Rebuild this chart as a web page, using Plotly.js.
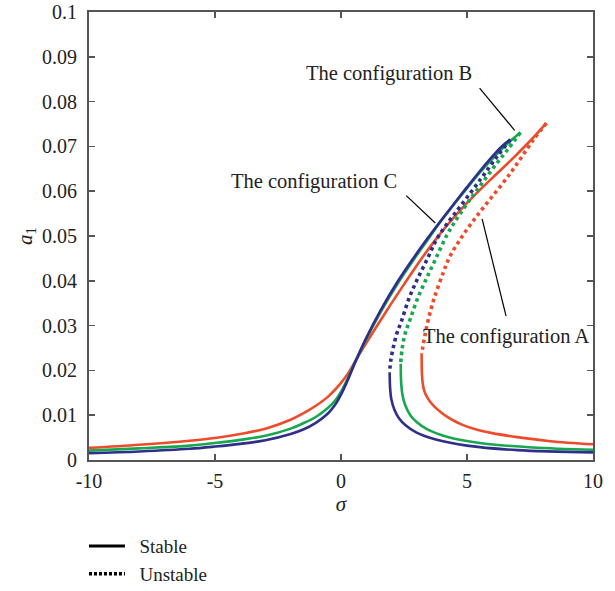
<!DOCTYPE html>
<html>
<head>
<meta charset="utf-8">
<script src="https://cdn.plot.ly/plotly-3.0.1.min.js"></script>
<style>html,body{margin:0;padding:0;background:#fff;}#chart{width:615px;height:591px;}</style>
</head>
<body>
<div id="chart"></div>
<script>
// Configuration C (blue)
const C_upper_x = [-10,-8,-6,-5,-4,-3,-2,-1.5,-1,-0.5,-0.2,0,0.25,0.57,1.0,1.56,2.2,2.88,3.4,3.81,4.4,5.0,5.5,6.06,6.4,6.72];
const C_upper_y = [0.0015,0.0019,0.0025,0.003,0.0036,0.0044,0.0058,0.0068,0.0083,0.0105,0.0126,0.0146,0.0176,0.0219,0.0272,0.0333,0.0394,0.0451,0.0492,0.0523,0.0566,0.0609,0.0644,0.0681,0.0701,0.0715];
const C_unst_x = [6.72,6.2,5.53,4.73,4.27,3.8,3.41,3.0,2.68,2.4,2.22,2.07,1.97,1.93];
const C_unst_y = [0.0715,0.0678,0.0626,0.0566,0.0532,0.0493,0.0447,0.040,0.0358,0.031,0.0283,0.025,0.022,0.0196];
const C_low_x = [1.93,1.95,2.0,2.12,2.3,2.55,3.0,3.8,5.0,7.0,10];
const C_low_y = [0.0196,0.016,0.0135,0.0112,0.0093,0.0078,0.0061,0.0045,0.0032,0.0022,0.0017];
// Configuration B (green)
const B_upper_x = [-10,-8,-6,-5,-4,-3,-2,-1.5,-1,-0.5,-0.2,0,0.25,0.57,1.0,1.6,2.25,2.93,3.45,3.86,4.45,5.05,5.55,6.1,6.6,7.12];
const B_upper_y = [0.0021,0.0026,0.0032,0.0038,0.0045,0.0054,0.007,0.0082,0.0096,0.0117,0.0135,0.0152,0.018,0.022,0.027,0.0333,0.0394,0.0451,0.0492,0.0525,0.0568,0.061,0.0644,0.0678,0.0706,0.0731];
const B_unst_x = [7.12,6.6,6.19,5.6,5.0,4.5,4.21,3.74,3.35,3.02,2.75,2.55,2.43,2.37];
const B_unst_y = [0.0731,0.0692,0.0663,0.0618,0.0572,0.053,0.0503,0.0447,0.040,0.0358,0.0315,0.0283,0.025,0.0215];
const B_low_x = [2.37,2.39,2.44,2.55,2.75,3.0,3.41,4.2,5.5,7.6,10];
const B_low_y = [0.0215,0.017,0.0145,0.0122,0.010,0.0085,0.0069,0.0052,0.0038,0.0028,0.0023];
// Configuration A (red)
const A_upper_x = [-10,-8,-6,-5,-4,-3,-2,-1.5,-1,-0.5,0,0.3,0.57,1.0,1.83,2.5,3.15,3.7,4.21,4.9,5.55,6.2,6.85,7.5,8.15];
const A_upper_y = [0.0027,0.0034,0.0043,0.0049,0.0058,0.007,0.009,0.0104,0.0121,0.0142,0.0172,0.0195,0.0221,0.0261,0.0335,0.0392,0.0446,0.0488,0.0524,0.0568,0.0605,0.064,0.0675,0.0712,0.0752];
const A_unst_x = [8.15,7.64,6.72,5.7,5.13,4.7,4.3,4.05,3.68,3.45,3.32,3.24,3.2];
const A_unst_y = [0.0752,0.0715,0.064,0.0567,0.0525,0.049,0.0452,0.0417,0.0358,0.031,0.0275,0.025,0.0237];
const A_low_x = [3.2,3.21,3.24,3.3,3.4,3.55,3.75,4.0,4.25,4.5,4.8,5.3,6.0,7.0,8.3,10];
const A_low_y = [0.0237,0.0195,0.0172,0.0155,0.0142,0.0129,0.0117,0.0105,0.0095,0.0087,0.0079,0.0069,0.006,0.0051,0.0042,0.0035];

const xTickVals = [-10,-5,0,5,10];
const xTickText = ['-10','-5','0','5','10'];
const yTickVals = [0,0.01,0.02,0.03,0.04,0.05,0.06,0.07,0.08,0.09,0.1];
const yTickText = ['0','0.01','0.02','0.03','0.04','0.05','0.06','0.07','0.08','0.09','0.1'];
const legendNames = ['Stable','Unstable'];

const RED = '#EE4B2B', GREEN = '#17A84F', BLUE = '#2F2E8B';
const FONT = 'Liberation Serif, Times New Roman, serif';
const SW = 2.6, DW = 3.6, DASH = '3.5px,3.5px';
const PAD = '\u00a0\u00a0';

function solid(x, y, c) {
  return {x: x, y: y, type: 'scatter', mode: 'lines', showlegend: false, hoverinfo: 'skip',
          line: {color: c, width: SW, shape: 'spline', smoothing: 1}};
}
function dotted(x, y, c) {
  return {x: x, y: y, type: 'scatter', mode: 'lines', showlegend: false, hoverinfo: 'skip',
          line: {color: c, width: DW, dash: DASH, shape: 'spline', smoothing: 1}};
}

const data = [
  solid(A_upper_x, A_upper_y, RED), dotted(A_unst_x, A_unst_y, RED), solid(A_low_x, A_low_y, RED),
  solid(B_upper_x, B_upper_y, GREEN), dotted(B_unst_x, B_unst_y, GREEN), solid(B_low_x, B_low_y, GREEN),
  solid(C_upper_x, C_upper_y, BLUE), dotted(C_unst_x, C_unst_y, BLUE), solid(C_low_x, C_low_y, BLUE),
  {x: [null], y: [null], type: 'scatter', mode: 'lines', name: PAD + legendNames[0], line: {color: '#000', width: 3}},
  {x: [null], y: [null], type: 'scatter', mode: 'lines', name: PAD + legendNames[1], line: {color: '#000', width: 3.5, dash: '3px,2px'}}
];

const axisCommon = {
  showgrid: false, zeroline: false, showline: true, linecolor: '#555', linewidth: 2,
  ticks: 'inside', ticklen: 6, tickwidth: 1.5, tickcolor: '#555', mirror: 'ticks',
  automargin: false,
  tickfont: {family: FONT, size: 20, color: '#222'}
};

const layout = {
  width: 615, height: 591,
  margin: {l: 89, r: 22, t: 12, b: 131, autoexpand: false},
  paper_bgcolor: '#fff', plot_bgcolor: '#fff',
  font: {family: FONT, size: 20, color: '#222'},
  xaxis: Object.assign({}, axisCommon, {
    range: [-10, 10], tickmode: 'array', tickvals: xTickVals, ticktext: xTickText,
    ticklabelstandoff: 2,
    title: {text: '<i>σ</i>', font: {family: FONT, size: 21, color: '#222'}, standoff: 5}
  }),
  yaxis: Object.assign({}, axisCommon, {
    range: [0, 0.1], tickmode: 'array', tickvals: yTickVals, ticktext: yTickText,
    ticklabelstandoff: 6,
    title: {text: '<i>a</i><sub>1</sub>', font: {family: FONT, size: 21, color: '#222'}, standoff: 4}
  }),
  showlegend: true,
  legend: {x: -0.01, xanchor: 'left', y: -0.15, yanchor: 'top', bgcolor: 'rgba(0,0,0,0)',
           itemwidth: 36, font: {family: FONT, size: 19, color: '#222'}, tracegroupgap: 0},
  annotations: [
    {x: 1.92, y: 0.0862, text: 'The configuration B', showarrow: false, font: {family: FONT, size: 20.5, color: '#222'}},
    {x: -1.09, y: 0.0622, text: 'The configuration C', showarrow: false, font: {family: FONT, size: 20.5, color: '#222'}},
    {x: 6.54, y: 0.0275, text: 'The configuration A', showarrow: false, font: {family: FONT, size: 20.5, color: '#222'}}
  ],
  shapes: [
    {type: 'line', xref: 'x', yref: 'y', x0: 5.50, y0: 0.0830, x1: 6.89, y1: 0.0736, line: {color: '#000', width: 1.2}},
    {type: 'line', xref: 'x', yref: 'y', x0: 2.59, y0: 0.0590, x1: 3.74, y1: 0.0529, line: {color: '#000', width: 1.2}},
    {type: 'line', xref: 'x', yref: 'y', x0: 6.55, y0: 0.0321, x1: 5.60, y1: 0.0538, line: {color: '#000', width: 1.2}}
  ]
};

Plotly.newPlot('chart', data, layout, {staticPlot: true, displayModeBar: false});
</script>
</body>
</html>
